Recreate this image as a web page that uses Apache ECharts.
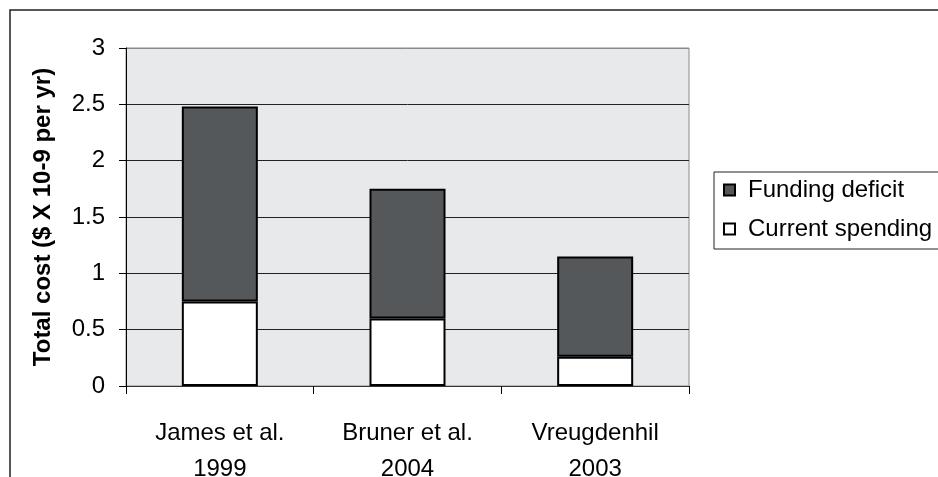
<!DOCTYPE html>
<html>
<head>
<meta charset="utf-8">
<script src="https://cdn.jsdelivr.net/npm/echarts@6/dist/echarts.min.js"></script>
<style>html,body{margin:0;padding:0;background:#fff;}#c{width:938px;height:477px;}</style>
</head>
<body>
<div id="c"></div>
<script>
var categories = ['James et al.\n1999', 'Bruner et al.\n2004', 'Vreugdenhil\n2003'];
var currentSpending = [0.75, 0.6, 0.26];
var fundingDeficit = [1.73, 1.15, 0.89];
var yTicks = [0, 0.5, 1, 1.5, 2, 2.5, 3];
var seriesNames = ['Funding deficit', 'Current spending'];
var yAxisTitle = 'Total cost ($ X 10-9 per yr)';

var font = "'Liberation Sans', Arial, sans-serif";
var chart = echarts.init(document.getElementById('c'), null, {renderer: 'canvas'});
chart.setOption({
  animation: false,
  backgroundColor: '#fff',
  textStyle: {fontFamily: font, color: '#000'},
  graphic: [
    {type: 'rect', shape: {x: 10, y: 10, width: 1000, height: 600}, style: {fill: 'none', stroke: '#222', lineWidth: 1.5}, silent: true, z: 0},
    {type: 'rect', shape: {x: 714, y: 172, width: 300, height: 77}, style: {fill: '#fff', stroke: '#222', lineWidth: 1}, silent: true, z: 1}
  ],
  grid: {left: 126, right: 249, top: 48, bottom: 91, show: true, containLabel: false, outerBoundsMode: 'none',
         backgroundColor: '#e8e9ea', borderColor: '#8a8a8a', borderWidth: 1},
  legend: {
    orient: 'vertical', left: 723, top: 178, padding: 0, itemWidth: 11, itemHeight: 11, itemGap: 15, icon: 'rect',
    data: seriesNames, z: 5,
    textStyle: {fontSize: 24, fontFamily: font, color: '#000', lineHeight: 24, padding: [0,0,0,8]}
  },
  xAxis: {
    type: 'category', data: categories,
    axisLine: {lineStyle: {color: '#333', width: 1}},
    axisTick: {show: true, length: 8, lineStyle: {color: '#000'}},
    axisLabel: {fontSize: 24, fontFamily: font, color: '#000', lineHeight: 36, margin: 29, interval: 0}
  },
  yAxis: {
    type: 'value', min: 0, max: 3, interval: 0.5,
    name: yAxisTitle, nameLocation: 'middle', nameGap: 71, nameRotate: 90,
    nameTextStyle: {fontSize: 24, fontWeight: 'bold', fontFamily: font, color: '#000'},
    axisLine: {show: true, lineStyle: {color: '#000', width: 1}},
    axisTick: {show: true, length: 7, lineStyle: {color: '#000'}},
    axisLabel: {fontSize: 24, fontFamily: font, color: '#000', margin: 21},
    splitLine: {show: true, lineStyle: {color: ['#222','#222','#222','#222','#222','#222','#8a8a8a'], width: 1}}
  },
  series: [
    {name: 'Current spending', type: 'bar', stack: 't', data: currentSpending, barWidth: 76,
     itemStyle: {color: '#ffffff', borderColor: '#000', borderWidth: 2}},
    {name: 'Funding deficit', type: 'bar', stack: 't', data: fundingDeficit, barWidth: 76,
     itemStyle: {color: '#54585b', borderColor: '#000', borderWidth: 2}}
  ]
});
</script>
</body>
</html>
